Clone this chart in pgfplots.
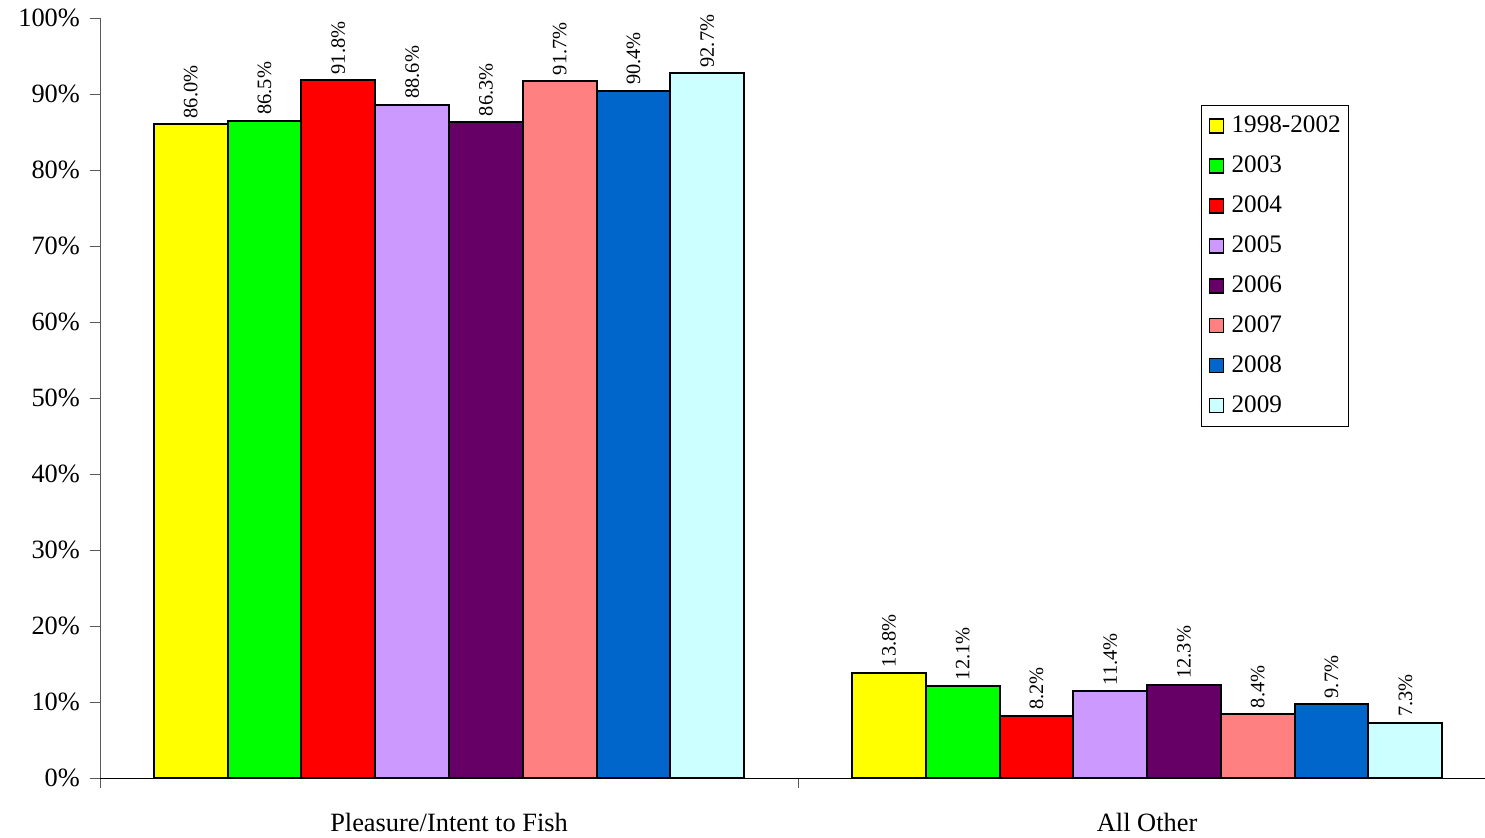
\documentclass[border=0pt]{standalone}
\usepackage{fontspec}
\setmainfont{Liberation Serif}
\usepackage{pgfplots}
\pgfplotsset{compat=1.18}
\definecolor{cA}{HTML}{FFFF00}
\definecolor{cB}{HTML}{00FF00}
\definecolor{cC}{HTML}{FF0000}
\definecolor{cD}{HTML}{CC99FF}
\definecolor{cE}{HTML}{660066}
\definecolor{cF}{HTML}{FF8080}
\definecolor{cG}{HTML}{0066CC}
\definecolor{cH}{HTML}{CCFFFF}
\begin{document}
\begin{tikzpicture}
\begin{axis}[
 at={(0,0)}, anchor=south west,
 scale only axis, width=692.5pt, height=380pt,
 xmin=-0.5, xmax=1.484, ymin=0, ymax=100,
 clip=false,
 axis x line=bottom, axis y line=left,
 axis line style={-},
 x axis line style={black},
 y axis line style={black!65},
 tick align=outside,
 major tick length=5pt,
 ytick={0,10,...,100},
 yticklabel={\pgfmathprintnumber{\tick}\%},
 yticklabel style={xshift=-1.5pt},
 y tick style={black!65},
 x tick style={black!65},
 /pgf/number format/assume math mode=true,
 ticklabel style={font=\fontsize{13.2}{15}\selectfont},
 xtick={-0.5,0.5},
 xticklabels={},
 extra x ticks={0,1},
 extra x tick labels={Pleasure/Intent to Fish, All Other},
 extra x tick style={major tick length=0pt, xticklabel style={yshift=-14pt}},
 ybar=0pt, bar width=0.1057,
 every axis plot/.append style={draw=black, line width=1pt},
 nodes near coords={\pgfmathprintnumber[fixed,zerofill,precision=1]{\pgfplotspointmeta}\%},
 nodes near coords style={rotate=90, anchor=west, font=\fontsize{10.2}{12}\selectfont, black, inner sep=2.5pt},
 legend style={at={(0.795,0.8855)}, anchor=north west, draw=black, line width=0.5pt,
   font=\fontsize{12.6}{14}\selectfont, row sep=6.1pt, inner xsep=1.5pt, inner ysep=3.3pt,
   cells={anchor=west}},
 legend image code/.code={\path[draw=none,fill=none] (0pt,0pt) -- (11pt,0pt);\draw[#1,line width=0.7pt] (2.5pt,-3.5pt) rectangle (9.5pt,3.5pt);},
 legend cell align=left,
 legend style={nodes={inner xsep=2.5pt}},
]
\addplot[fill=cA] coordinates {(0,86.0) (1,13.8)};
\addplot[fill=cB] coordinates {(0,86.5) (1,12.1)};
\addplot[fill=cC] coordinates {(0,91.8) (1,8.2)};
\addplot[fill=cD] coordinates {(0,88.6) (1,11.4)};
\addplot[fill=cE] coordinates {(0,86.3) (1,12.3)};
\addplot[fill=cF] coordinates {(0,91.7) (1,8.4)};
\addplot[fill=cG] coordinates {(0,90.4) (1,9.7)};
\addplot[fill=cH] coordinates {(0,92.7) (1,7.3)};
\legend{1998-2002,2003,2004,2005,2006,2007,2008,2009}
\end{axis}
\pgfresetboundingbox
\path[use as bounding box] (-50pt,-30pt) rectangle (692.5pt,389pt);
\end{tikzpicture}
\end{document}
